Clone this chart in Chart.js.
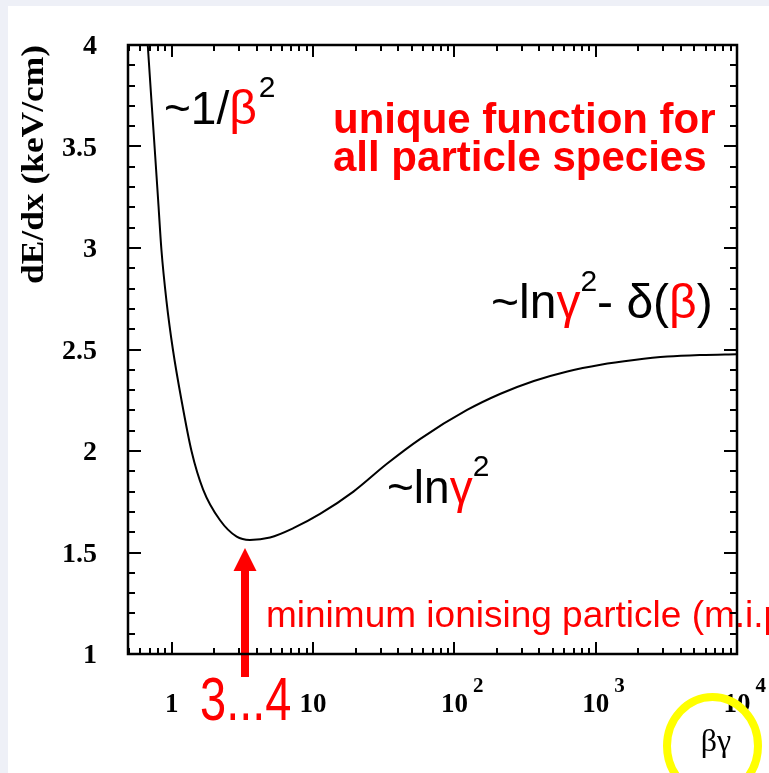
<!DOCTYPE html>
<html>
<head>
<meta charset="utf-8">
<script src="https://cdn.jsdelivr.net/npm/chart.js@4.4.1/dist/chart.umd.min.js"></script>
<style>
  html, body { margin: 0; padding: 0; background: #eef0f7; }
  canvas { display: block; }
</style>
</head>
<body>
<canvas id="dedx" width="769" height="773"></canvas>
<script>
// energy loss curve, dE/dx vs beta*gamma
const betaGamma = [0.62, 0.676, 0.742, 0.80, 0.845, 0.917, 1.021, 1.172, 1.379, 1.667, 2.19, 2.88, 3.57, 4.96, 7.25, 11.2, 19.3, 33.3, 57.4, 123, 212, 365, 630, 1085, 1870, 3220, 5560, 10000];
const dEdx =      [4.45, 4.00, 3.58, 3.24, 2.99, 2.74, 2.495, 2.25, 2.00, 1.81, 1.66, 1.578, 1.562, 1.574, 1.62, 1.69, 1.80, 1.937, 2.06, 2.202, 2.282, 2.345, 2.392, 2.425, 2.448, 2.465, 2.473, 2.477];

const yTickValues = [1, 1.5, 2, 2.5, 3, 3.5, 4];
const yTickLabels = ['1', '1.5', '2', '2.5', '3', '3.5', '4'];
const xTickValues = [1, 10, 100, 1000, 10000];
const xTickBase = ['1', '10', '10', '10', '10'];
const xTickExp = ['', '', '2', '3', '4'];

const SANS = '"Liberation Sans", Arial, sans-serif';
const SERIF = '"Liberation Serif", "Times New Roman", serif';
const RED = '#ff0000';

function seg(ctx, x1, y1, x2, y2) {
  ctx.beginPath();
  ctx.moveTo(x1, y1);
  ctx.lineTo(x2, y2);
  ctx.stroke();
}

// draws a run of differently styled pieces on one baseline
function runs(ctx, x, y, parts) {
  ctx.textAlign = 'left';
  ctx.textBaseline = 'alphabetic';
  for (const p of parts) {
    ctx.font = p.font;
    ctx.fillStyle = p.color || '#000';
    ctx.fillText(p.text, x, y + (p.dy || 0));
    x += ctx.measureText(p.text).width + (p.gap || 0);
  }
}

const backdrop = {
  id: 'backdrop',
  beforeDraw(chart) {
    const ctx = chart.ctx;
    ctx.save();
    ctx.fillStyle = '#eef0f7';
    ctx.fillRect(0, 0, chart.width, chart.height);
    ctx.fillStyle = '#ffffff';
    ctx.fillRect(8, 6, chart.width - 8, chart.height - 6);
    ctx.restore();
  }
};

const frame = {
  id: 'frame',
  afterDatasetsDraw(chart) {
    const ctx = chart.ctx;
    const xs = chart.scales.x, ys = chart.scales.y;
    const { left, right, top, bottom } = chart.chartArea;
    ctx.save();

    // annotations
    const big = '46px ' + SANS;
    const sup = '30px ' + SANS;
    runs(ctx, 164, 124, [
      { text: '~1/', font: big },
      { text: 'β', font: '48px ' + SANS, color: RED, gap: 2 },
      { text: '2', font: sup, dy: -27 }
    ]);
    runs(ctx, 333, 133, [{ text: 'unique function for', font: 'bold 42px ' + SANS, color: RED }]);
    runs(ctx, 333, 171, [{ text: 'all particle species', font: 'bold 42px ' + SANS, color: RED }]);
    runs(ctx, 491, 318, [
      { text: '~ln', font: '48px ' + SANS },
      { text: 'γ', font: '48px ' + SANS, color: RED },
      { text: '2', font: sup, dy: -27 },
      { text: '- δ(', font: '48px ' + SANS },
      { text: 'β', font: '48px ' + SANS, color: RED },
      { text: ')', font: '48px ' + SANS }
    ]);
    runs(ctx, 387, 503, [
      { text: '~ln', font: big },
      { text: 'γ', font: big, color: RED },
      { text: '2', font: sup, dy: -27 }
    ]);
    runs(ctx, 266, 627, [{ text: 'minimum ionising particle (m.i.p.)', font: '37px ' + SANS, color: RED }]);

    // tall "3...4" under the minimum
    ctx.save();
    ctx.translate(200, 720);
    ctx.scale(1, 1.3);
    runs(ctx, 0, 0, [{ text: '3...4', font: '47px ' + SANS, color: RED }]);
    ctx.restore();

    // arrow to the minimum
    ctx.fillStyle = RED;
    ctx.fillRect(241, 568, 8, 109);
    ctx.beginPath();
    ctx.moveTo(245, 548);
    ctx.lineTo(256.5, 571);
    ctx.lineTo(233.5, 571);
    ctx.closePath();
    ctx.fill();

    // ticks, all pointing inwards
    ctx.strokeStyle = '#000';
    ctx.lineWidth = 2;
    for (let v = 10; v <= 40; v++) {
      const y = Math.round(ys.getPixelForValue(v / 10));
      const len = v % 5 === 0 ? 13 : 7;
      seg(ctx, left, y, left + len, y);
      seg(ctx, right, y, right - len, y);
    }
    for (let e = -1; e <= 4; e++) {
      for (let k = 1; k <= 9; k++) {
        const v = k * Math.pow(10, e);
        if (v < xs.min || v > xs.max) continue;
        const x = Math.round(xs.getPixelForValue(v));
        const len = k === 1 ? 12 : 6;
        seg(ctx, x, bottom, x, bottom - len);
        seg(ctx, x, top, x, top + len);
      }
    }
    ctx.lineWidth = 2.5;
    ctx.strokeRect(left, top, right - left, bottom - top);

    // y tick labels
    ctx.fillStyle = '#000';
    ctx.font = 'bold 28px ' + SERIF;
    ctx.textAlign = 'right';
    ctx.textBaseline = 'middle';
    yTickValues.forEach((v, i) => {
      ctx.fillText(yTickLabels[i], 97, ys.getPixelForValue(v) + 2);
    });

    // x tick labels with exponents
    xTickValues.forEach((v, i) => {
      const x = xs.getPixelForValue(v);
      ctx.font = 'bold 27px ' + SERIF;
      ctx.textAlign = 'center';
      ctx.textBaseline = 'alphabetic';
      ctx.fillText(xTickBase[i], x, 712);
      if (xTickExp[i]) {
        const w = ctx.measureText(xTickBase[i]).width;
        ctx.font = 'bold 21px ' + SERIF;
        ctx.textAlign = 'left';
        ctx.fillText(xTickExp[i], x + w / 2 + 5, 692);
      }
    });

    // y axis title, stretched along its length
    ctx.font = 'bold 31px ' + SERIF;
    const title = 'dE/dx (keV/cm)';
    const tw = ctx.measureText(title).width;
    ctx.translate(43, 284);
    ctx.rotate(-Math.PI / 2);
    ctx.scale(239 / tw, 1);
    ctx.textAlign = 'left';
    ctx.textBaseline = 'alphabetic';
    ctx.fillText(title, 0, 0);
    ctx.setTransform(1, 0, 0, 1, 0, 0);

    // x axis title in a highlight ring
    ctx.strokeStyle = '#ffff00';
    ctx.lineWidth = 8;
    ctx.beginPath();
    ctx.ellipse(712.5, 746, 45.5, 49, 0, 0, Math.PI * 2);
    ctx.stroke();
    ctx.fillStyle = '#000';
    ctx.font = '32px ' + SERIF;
    ctx.textAlign = 'center';
    ctx.textBaseline = 'middle';
    ctx.fillText('βγ', 716, 743);

    ctx.restore();
  }
};

new Chart(document.getElementById('dedx'), {
  type: 'line',
  data: {
    datasets: [{
      data: betaGamma.map((bg, i) => ({ x: bg, y: dEdx[i] })),
      borderColor: '#000',
      borderWidth: 2,
      pointRadius: 0,
      cubicInterpolationMode: 'monotone',
      clip: 0
    }]
  },
  options: {
    responsive: false,
    animation: false,
    devicePixelRatio: 1,
    layout: { padding: { left: 128, top: 45, right: 32, bottom: 119 } },
    plugins: { legend: { display: false }, tooltip: { enabled: false } },
    scales: {
      x: { type: 'logarithmic', min: 0.49, max: 10000, display: false },
      y: { type: 'linear', min: 1, max: 4, display: false }
    }
  },
  plugins: [backdrop, frame]
});
</script>
</body>
</html>
